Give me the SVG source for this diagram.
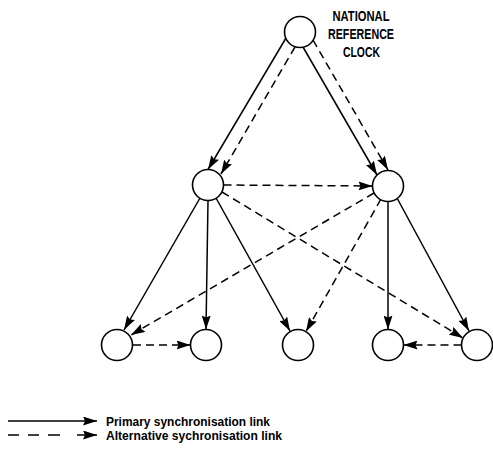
<svg xmlns="http://www.w3.org/2000/svg" width="493" height="452" viewBox="0 0 493 452">
  <defs>
    <marker id="arrow" markerUnits="userSpaceOnUse" markerWidth="15" markerHeight="9" refX="14" refY="4.5" orient="auto">
      <path d="M0,0 L14,4.5 L0,9 L2,4.5 z" fill="#000"/>
    </marker>
    <style>
      .node { fill: #fff; stroke: #000; stroke-width: 1.6; }
      .link { fill: none; stroke: #000; stroke-width: 1.5; marker-end: url(#arrow); }
      .alt { stroke-dasharray: 8 5; }
      .lbl { font-family: "Liberation Sans Narrow", "Liberation Sans", Arial, sans-serif; font-weight: bold; fill: #000; }
    </style>
  </defs>
  <rect width="493" height="452" fill="#fff"/>

  <!-- connectors -->
  <g id="connectors">
    <!-- from national reference clock -->
    <line class="link" x1="286" y1="38" x2="208" y2="169.5"/>
    <line class="link alt" x1="295" y1="47" x2="221" y2="174"/>
    <line class="link" x1="303" y1="47" x2="377" y2="175"/>
    <line class="link alt" x1="313" y1="40" x2="388" y2="170"/>
    <!-- between middle nodes -->
    <line class="link alt" x1="223.5" y1="185" x2="372.5" y2="186"/>
    <!-- from left middle node -->
    <line class="link" x1="200" y1="198" x2="124" y2="330"/>
    <line class="link" x1="208" y1="200.5" x2="206" y2="329.5"/>
    <line class="link" x1="216" y1="198" x2="290" y2="331"/>
    <line class="link alt" x1="222" y1="192" x2="463" y2="338"/>
    <!-- from right middle node -->
    <line class="link alt" x1="374" y1="193" x2="131" y2="335"/>
    <line class="link alt" x1="381" y1="199" x2="306" y2="331.5"/>
    <line class="link" x1="388" y1="201.5" x2="388" y2="329.5"/>
    <line class="link" x1="397" y1="198" x2="469" y2="331"/>
    <!-- between bottom nodes -->
    <line class="link alt" x1="133" y1="345" x2="190.5" y2="345"/>
    <line class="link alt" x1="461.5" y1="345" x2="403.5" y2="345"/>
  </g>

  <!-- nodes -->
  <g id="clock">
    <circle class="node" cx="300" cy="32" r="15.5"/>
    <text class="lbl" font-size="15" text-anchor="middle" x="361" y="20.5" textLength="57" lengthAdjust="spacingAndGlyphs">NATIONAL</text>
    <text class="lbl" font-size="15" text-anchor="middle" x="361" y="38.5" textLength="66" lengthAdjust="spacingAndGlyphs">REFERENCE</text>
    <text class="lbl" font-size="15" text-anchor="middle" x="361.5" y="56.5" textLength="37" lengthAdjust="spacingAndGlyphs">CLOCK</text>
  </g>
  <g id="mid-left"><circle class="node" cx="208" cy="185" r="15.5"/></g>
  <g id="mid-right"><circle class="node" cx="388" cy="186" r="15.5"/></g>
  <g id="bottom-1"><circle class="node" cx="117" cy="345" r="15.5"/></g>
  <g id="bottom-2"><circle class="node" cx="206" cy="345" r="15.5"/></g>
  <g id="bottom-3"><circle class="node" cx="298" cy="345" r="15.5"/></g>
  <g id="bottom-4"><circle class="node" cx="388" cy="345" r="15.5"/></g>
  <g id="bottom-5"><circle class="node" cx="477" cy="345" r="15.5"/></g>

  <!-- legend -->
  <g id="legend">
    <line class="link" x1="8" y1="421" x2="97" y2="421"/>
    <path d="M8,435 H19 M28,435 H39 M48,435 H60" stroke="#000" stroke-width="1.5" fill="none"/>
    <line class="link" x1="77" y1="435" x2="97" y2="435"/>
    <text class="lbl" font-size="13.5" x="106" y="426" textLength="164" lengthAdjust="spacingAndGlyphs">Primary synchronisation link</text>
    <text class="lbl" font-size="13.5" x="106" y="440" textLength="176" lengthAdjust="spacingAndGlyphs">Alternative sychronisation link</text>
  </g>
</svg>
